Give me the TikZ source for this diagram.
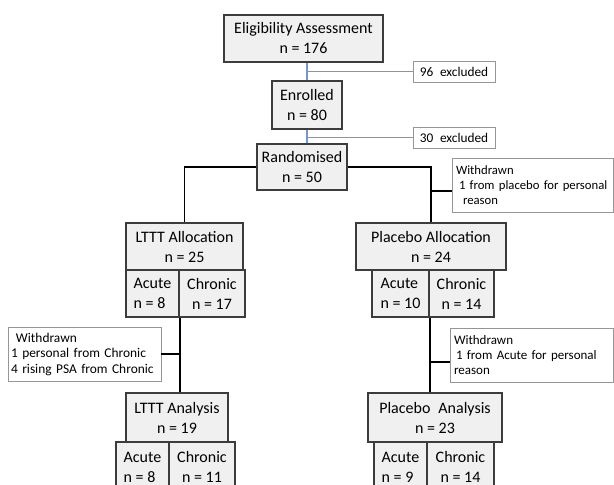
\documentclass[tikz,border=0pt]{standalone}
\usepackage{fontspec}
\setmainfont{Carlito}
\usepackage{xcolor}
\usepackage{tikz}
\usetikzlibrary{arrows.meta}
\usetikzlibrary{positioning}
\definecolor{boxfill}{RGB}{240,240,240}
\definecolor{boxline}{RGB}{60,60,60}
\definecolor{noteline}{RGB}{150,150,150}
\definecolor{linkblue}{RGB}{115,152,204}

\begin{document}
\begin{tikzpicture}[x=1pt,y=-1pt,
	box/.style={draw=boxline,fill=boxfill,line width=1.3pt,align=center,inner sep=0pt,font=\fontsize{16}{20}\selectfont},
	note/.style={draw=noteline,fill=white,line width=0.9pt,align=left,inner xsep=4pt,inner ysep=0pt,font=\fontsize{12.7}{15}\selectfont},
	main/.style={line width=1.8pt},
	blueline/.style={draw=linkblue,line width=1.3pt}]

			\useasboundingbox (0,0) rectangle (614,485);
			\clip (0,0) rectangle (614,485);

			\node[box,minimum width=159pt,minimum height=47pt] (elig) at (303.5,38.5) {Eligibility Assessment\\n = 176};
			\node[box,minimum width=70pt,minimum height=48pt] (enrol) at (307,105) {Enrolled\\n = 80};
			\node[box,minimum width=90pt,minimum height=46pt] (rand) at (302,167) {Randomised\\n = 50};
			\node[note,align=center,inner xsep=0pt,minimum width=82pt,minimum height=21pt,font=\fontsize{13.3}{15}\selectfont] (excl1) at (454,71.5) {96\enspace excluded};
			\node[note,align=center,inner xsep=0pt,minimum width=82pt,minimum height=21pt,font=\fontsize{13.3}{15}\selectfont] (excl2) at (454,137.5) {30\enspace excluded};

			\node[note,text width=153pt,minimum height=54pt] (wd1) at (532.5,185) {Withdrawn\\\hspace*{3pt}1 from placebo for personal\\\hspace*{7pt}reason};

			\node[box,minimum width=117pt,minimum height=47pt] (lalloc) at (184.5,246.5) {LTTT Allocation\\n = 25};
			\node[box,align=left,minimum width=53pt,minimum height=47pt] (lacute) at (152.5,293.5) {Acute\\n = 8};
			\node[box,minimum width=66pt,minimum height=47pt] (lchron) at (212,293.5) {Chronic\\n = 17};

			\node[box,minimum width=150pt,minimum height=47pt] (palloc) at (431,246.5) {Placebo Allocation\\n = 24};
			\node[box,align=left,minimum width=57pt,minimum height=47pt] (pacute) at (400.5,293.5) {Acute\\n = 10};
			\node[box,minimum width=65pt,minimum height=47pt] (pchron) at (461.5,293.5) {Chronic\\n = 14};

			\node[note,text width=147pt,inner xsep=3pt,minimum height=54pt,font=\fontsize{13.4}{15.5}\selectfont] (wd2) at (84.5,354) {\hspace*{5pt}Withdrawn\\1 personal from Chronic\\4 rising PSA from Chronic};
			\node[note,text width=155pt,minimum height=54pt,font=\fontsize{13}{15}\selectfont] (wd3) at (531.5,355) {Withdrawn\\\hspace*{2pt}1 from Acute for personal\\reason};

			\node[box,minimum width=102pt,minimum height=49pt] (lana) at (177,417.5) {LTTT Analysis\\n = 19};
			\node[box,align=left,minimum width=53pt,minimum height=50pt] (lanacute) at (142.5,467) {Acute\\n = 8};
			\node[box,minimum width=66pt,minimum height=50pt] (lanchron) at (202,467) {Chronic\\n = 11};

			\node[box,minimum width=134pt,minimum height=49pt] (pana) at (435,417.5) {Placebo\enspace Analysis\\n = 23};
			\node[box,align=left,minimum width=53pt,minimum height=50pt] (panacute) at (400.5,467) {Acute\\n = 9};
			\node[box,minimum width=67pt,minimum height=50pt] (panchron) at (460.5,467) {Chronic\\n = 14};

			\draw[blueline] (enrol.north) -- (enrol.north |- elig.south);
			\draw[blueline] (excl1.west) -- (excl1.west -| enrol.north);
			\draw[blueline] (enrol.south) -- (enrol.south |- rand.north);
			\draw[blueline] (excl2.west) -- (excl2.west -| enrol.south);

			\draw[main] (rand.west) -| (lalloc.north);
			\draw[main] (rand.east) -| (palloc.north);
			\draw[main] ([yshift=-6pt]wd1.west) -- ([yshift=-6pt]wd1.west -| palloc.north);
			\draw[main] (lacute.south east) -- (lacute.south east |- lana.north);
			\draw[main] (wd2.east) -- (wd2.east -| lacute.south east);
			\draw[main] (pacute.south east) -- (pacute.south east |- pana.north);
			\draw[main] ([yshift=-7pt]wd3.west) -- ([yshift=-7pt]wd3.west -| pacute.south east);

		\end{tikzpicture}
\end{document}
